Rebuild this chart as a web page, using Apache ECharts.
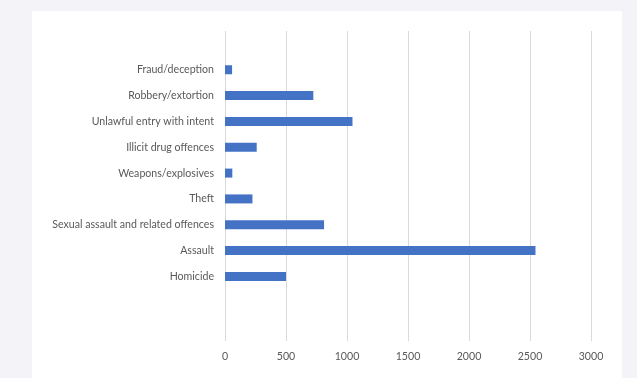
<!DOCTYPE html>
<html>
<head>
<meta charset="utf-8">
<script src="https://cdn.jsdelivr.net/npm/echarts@6/dist/echarts.min.js"></script>
<style>
html,body{margin:0;padding:0;background:#f3f3f8;}
#panel{position:absolute;left:32px;top:11px;width:590px;height:367px;background:#ffffff;}
#chart{position:absolute;left:0;top:0;width:637px;height:378px;}
</style>
</head>
<body>
<div id="panel"></div>
<div id="chart"></div>
<script>
const categories = ['Homicide', 'Assault', 'Sexual assault and related offences', 'Theft', 'Weapons/explosives', 'Illicit drug offences', 'Unlawful entry with intent', 'Robbery/extortion', 'Fraud/deception'];
const values = [500, 2545, 812, 225, 60, 260, 1045, 724, 58];
const xTicks = [0, 500, 1000, 1500, 2000, 2500, 3000];

// empty slots around the categories, as in the original plot area
const axisCats = ['', ''].concat(categories, ['']);
const axisVals = [null, null].concat(values, [null]);

const chart = echarts.init(document.getElementById('chart'), null, {renderer: 'canvas'});
const font = 'Lato, "Open Sans", sans-serif';
chart.setOption({
  animation: false,
  backgroundColor: 'transparent',
  grid: {left: 225, right: 46, top: 31, bottom: 37, containLabel: false},
  xAxis: {
    type: 'value',
    min: xTicks[0], max: xTicks[xTicks.length - 1], interval: 500,
    axisLine: {show: false},
    axisTick: {show: false},
    splitLine: {show: true, lineStyle: {color: '#d9d9d9', width: 1}},
    axisLabel: {color: '#595959', fontSize: 10.6, fontFamily: font, margin: 10,
      formatter: function (v) { return String(v); }}
  },
  yAxis: {
    type: 'category',
    data: axisCats,
    axisLine: {show: false},
    axisTick: {show: false},
    splitLine: {show: false},
    axisLabel: {color: '#595959', fontSize: 10.6, fontFamily: font, margin: 11}
  },
  series: [{
    type: 'bar',
    data: axisVals,
    barWidth: 9,
    itemStyle: {color: '#4472c4'}
  }]
});
</script>
</body>
</html>
